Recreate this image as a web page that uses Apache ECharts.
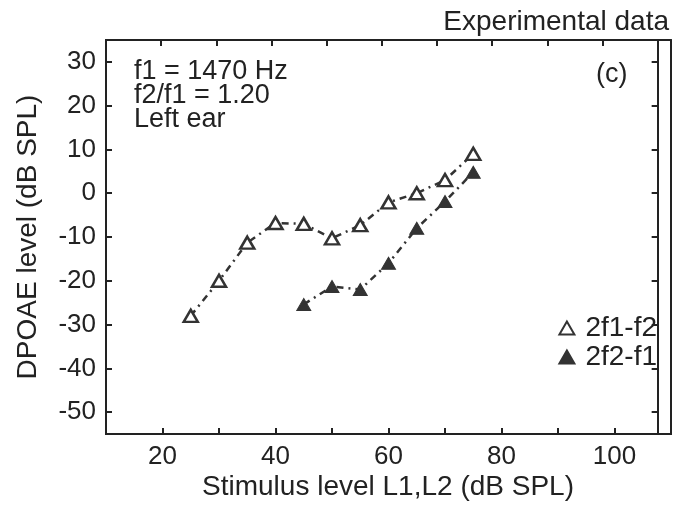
<!DOCTYPE html>
<html><head><meta charset="utf-8">
<script src="https://cdn.jsdelivr.net/npm/echarts@6/dist/echarts.min.js"></script>
<style>
html,body{margin:0;padding:0;background:#fff}
#wrap{position:relative;width:686px;height:506px}
#c,#t{position:absolute;left:0;top:0;width:686px;height:506px}
#t{pointer-events:none}
</style>
</head><body><div id="wrap"><div id="c"></div><div id="t"></div></div>
<script>
// Data
const levels1 = [25, 30, 35, 40, 45, 50, 55, 60, 65, 70, 75];
const dp2f1f2 = [-28, -20, -11.3, -6.8, -7, -10.3, -7.3, -2.1, 0, 3, 9];
const levels2 = [45, 50, 55, 60, 65, 70, 75];
const dp2f2f1 = [-25.4, -21.3, -22, -16, -8, -1.9, 4.8];
const xTickValues = [20, 30, 40, 50, 60, 70, 80, 90, 100];
const xTickLabels = [20, 40, 60, 80, 100];
const yTickValues = [-50, -40, -30, -20, -10, 0, 10, 20, 30];
const yTickLabels = [-50, -40, -30, -20, -10, 0, 10, 20, 30];
const seriesNames = ['2f1-f2', '2f2-f1'];
const annotations = ['f1 = 1470 Hz', 'f2/f1 = 1.20', 'Left ear'];
const xTitle = 'Stimulus level L1,L2 (dB SPL)';
const yTitle = 'DPOAE level (dB SPL)';
const X_MIN = 10, X_MAX = 110, Y_MIN = -55, Y_MAX = 35;

const FONT = "'Liberation Sans', Arial, sans-serif";
const INK = '#222';
const box = {left: 106, right: 15, top: 40, bottom: 72};
const pair = (xs, ys) => xs.map((x, i) => [x, ys[i]]);
const frameLine = () => ({show: true, onZero: false, lineStyle: {color: INK, width: 2}});

// ---- main chart: data, labels, texts ----
const chart = echarts.init(document.getElementById('c'));
chart.setOption({
  backgroundColor: '#fff',
  animation: false,
  title: {
    text: 'Experimental data', right: 12, top: 3,
    textStyle: {fontFamily: FONT, fontSize: 28, fontWeight: 'normal', color: INK}
  },
  grid: [Object.assign({}, box), Object.assign({}, box)],
  legend: {
    orient: 'vertical', right: 24, top: 309, itemGap: 1, itemWidth: 15, itemHeight: 13,
    data: seriesNames.map(n => ({name: n, icon: 'triangle'})),
    textStyle: {fontFamily: FONT, fontSize: 28, color: INK, padding: [0, 0, 0, 6]}
  },
  xAxis: [{
    gridIndex: 0, type: 'value', min: X_MIN, max: X_MAX,
    axisLine: frameLine(), axisTick: {show: false},
    axisLabel: {customValues: xTickLabels, fontFamily: FONT, fontSize: 26, color: INK, margin: 10},
    splitLine: {show: false}
  }, {
    gridIndex: 1, type: 'value', min: X_MIN, max: X_MAX, position: 'top',
    axisLine: frameLine(), axisTick: {show: false}, axisLabel: {show: false}, splitLine: {show: false}
  }],
  yAxis: [{
    gridIndex: 0, type: 'value', min: Y_MIN, max: Y_MAX,
    axisLine: frameLine(), axisTick: {show: false},
    axisLabel: {customValues: yTickLabels, fontFamily: FONT, fontSize: 26, color: INK, margin: 10},
    splitLine: {show: false}
  }, {
    gridIndex: 1, type: 'value', min: Y_MIN, max: Y_MAX, position: 'right',
    axisLine: frameLine(), axisTick: {show: false}, axisLabel: {show: false}, splitLine: {show: false}
  }],
  graphic: [{
    type: 'text', left: 134, top: 58,
    style: {text: annotations.join('\n'), font: '27px ' + FONT, lineHeight: 24, fill: INK}
  }, {
    type: 'text', left: 596, top: 61,
    style: {text: '(c)', font: '27px ' + FONT, fill: INK}
  }, {
    type: 'text', x: 388, y: 487,
    style: {text: xTitle, font: '28px ' + FONT, fill: INK, align: 'center', verticalAlign: 'middle'}
  }, {
    type: 'text', x: 28, y: 237, rotation: Math.PI / 2,
    style: {text: yTitle, font: '28px ' + FONT, fill: INK, align: 'center', verticalAlign: 'middle'}
  }],
  series: [{
    name: seriesNames[0], type: 'line', xAxisIndex: 0, yAxisIndex: 0, data: pair(levels1, dp2f1f2),
    symbol: 'triangle', symbolSize: [14, 12], z: 4,
    itemStyle: {color: '#fff', borderColor: '#333', borderWidth: 2.5},
    lineStyle: {color: '#333', width: 2.5, type: [7, 5, 2, 5]}
  }, {
    name: seriesNames[1], type: 'line', xAxisIndex: 0, yAxisIndex: 0, data: pair(levels2, dp2f2f1),
    symbol: 'triangle', symbolSize: [14, 12], z: 4,
    itemStyle: {color: '#333', borderColor: '#333', borderWidth: 1},
    lineStyle: {color: '#333', width: 2.5, type: [7, 5, 2, 5]}
  }]
});

// ---- transparent overlay: bare axes carrying the inward tick marks on all four sides ----
const T = {show: true, inside: true, length: 6, lineStyle: {color: INK, width: 2}};
const ghostLabel = (vals) => ({customValues: vals, color: 'transparent'});
const overlay = echarts.init(document.getElementById('t'));
overlay.setOption({
  backgroundColor: 'transparent',
  animation: false,
  grid: [Object.assign({}, box), Object.assign({}, box)],
  xAxis: [{
    gridIndex: 0, type: 'value', min: X_MIN, max: X_MAX,
    axisLine: {show: true, onZero: false, lineStyle: {color: INK, width: 2}},
    axisTick: Object.assign({customValues: xTickValues}, T),
    axisLabel: ghostLabel(xTickLabels), splitLine: {show: false}
  }, {
    gridIndex: 1, type: 'value', min: X_MIN, max: X_MAX, position: 'top',
    axisLine: {show: true, onZero: false, lineStyle: {color: INK, width: 2}},
    axisTick: Object.assign({customValues: xTickValues}, T),
    axisLabel: ghostLabel(xTickLabels), splitLine: {show: false}
  }],
  yAxis: [{
    gridIndex: 0, type: 'value', min: Y_MIN, max: Y_MAX,
    axisLine: {show: true, onZero: false, lineStyle: {color: INK, width: 2}},
    axisTick: Object.assign({customValues: yTickValues}, T),
    axisLabel: ghostLabel(yTickLabels), splitLine: {show: false}
  }, {
    gridIndex: 1, type: 'value', min: Y_MIN, max: Y_MAX, position: 'right',
    axisLine: {show: true, onZero: false, lineStyle: {color: INK, width: 2}},
    axisTick: Object.assign({customValues: yTickValues}, T),
    axisLabel: ghostLabel(yTickLabels), splitLine: {show: false}
  }],
  series: [
    {type: 'line', xAxisIndex: 0, yAxisIndex: 0, data: [], silent: true},
    {type: 'line', xAxisIndex: 1, yAxisIndex: 1, data: [], silent: true}
  ]
});
</script></body></html>
